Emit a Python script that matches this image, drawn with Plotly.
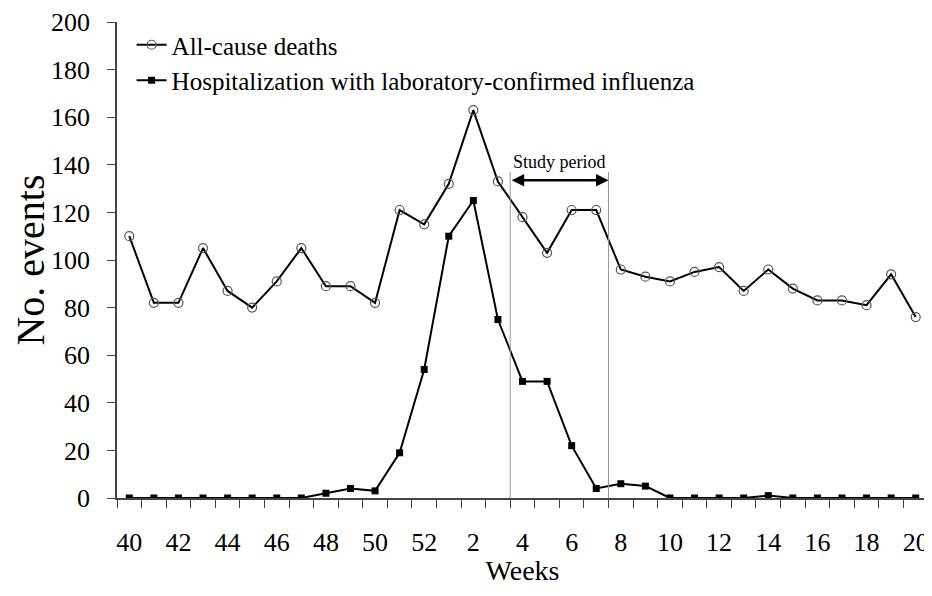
import plotly.graph_objects as go

weeks = [str(w) for w in range(40, 53)] + [str(w) for w in range(1, 21)]
deaths = [110, 82, 82, 105, 87, 80, 91, 105, 89, 89, 82, 121, 115,
          132, 163, 133, 118, 103, 121, 121, 96, 93, 91, 95, 97, 87, 96, 88, 83, 83, 81, 94, 76]
hosp = [0, 0, 0, 0, 0, 0, 0, 0, 2, 4, 3, 19, 54,
        110, 125, 75, 49, 49, 22, 4, 6, 5, 0, 0, 0, 0, 1, 0, 0, 0, 0, 0, 0]
tick_labels = [w if i % 2 == 0 else "" for i, w in enumerate(weeks)]
study_start, study_end = "4", "7"

font = "Liberation Serif, Times New Roman, serif"

fig = go.Figure()
fig.add_trace(go.Scatter(x=weeks, y=deaths, name="All-cause deaths", mode="lines+markers",
                         line=dict(color="black", width=2),
                         marker=dict(symbol="circle-open", size=9, color="#555555",
                                     line=dict(width=1.2))))
fig.add_trace(go.Scatter(x=weeks, y=hosp, name="Hospitalization with laboratory-confirmed influenza",
                         mode="lines+markers", line=dict(color="black", width=2),
                         marker=dict(symbol="square", size=7, color="black")))

# study period markers sit on the category boundaries
i0 = weeks.index(study_start) - 0.5
i1 = weeks.index(study_end) + 0.5
for xv in (i0, i1):
    fig.add_shape(type="line", x0=xv, x1=xv, y0=0, y1=137, xref="x", yref="y",
                  line=dict(color="#999999", width=1))
fig.add_annotation(x=i1, y=133.5, ax=i0, ay=133.5, xref="x", yref="y", axref="x", ayref="y",
                   text="", showarrow=True, arrowhead=2, arrowside="end+start",
                   arrowsize=1, arrowwidth=2.5, arrowcolor="black")
fig.add_annotation(x=(i0 + i1) / 2, y=136, xref="x", yref="y", text="Study period",
                   showarrow=False, yanchor="bottom", font=dict(size=18, color="black", family=font))

# page body has an 8px margin, so the figure is a bit smaller than the window
fig.update_layout(
    width=924, height=578,
    margin=dict(l=109, r=4, t=14, b=88),
    plot_bgcolor="white", paper_bgcolor="white",
    font=dict(family=font, color="black"),
    showlegend=True,
    legend=dict(x=0.018, y=1.0, xanchor="left", yanchor="top", bgcolor="rgba(0,0,0,0)",
                font=dict(size=25), itemwidth=30, tracegroupgap=0),
)
fig.update_xaxes(type="category", range=[-0.5, len(weeks) - 0.5], tickmode="array",
                 tickvals=weeks, ticktext=tick_labels, tickson="boundaries", tickangle=0,
                 ticks="outside", ticklen=8, tickcolor="#444", showline=True, linecolor="#444",
                 linewidth=1.5, showgrid=False, tickfont=dict(size=26), automargin=False,
                 ticklabelstandoff=20, ticklabeloverflow="allow",
                 title=dict(text="Weeks", font=dict(size=28), standoff=13))
fig.update_yaxes(range=[0, 200], dtick=20, ticks="outside", ticklen=8, tickcolor="#444",
                 showline=True, linecolor="#444", linewidth=1.5, showgrid=False, zeroline=False,
                 tickfont=dict(size=26), automargin=False, ticklabelstandoff=12,
                 ticklabeloverflow="allow",
                 title=dict(text="No. events", font=dict(size=40), standoff=12))

fig.write_html("out.html")
